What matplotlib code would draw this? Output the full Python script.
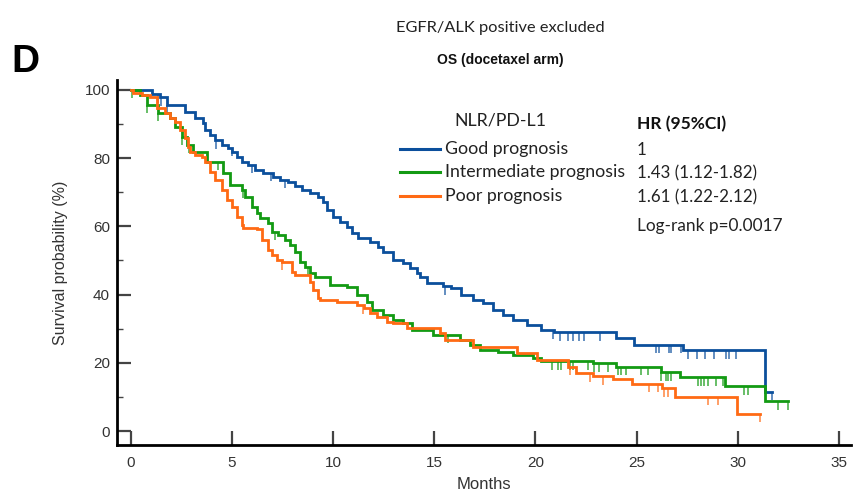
import numpy as np
import matplotlib
matplotlib.use("Agg")
import matplotlib.pyplot as plt
from matplotlib.lines import Line2D

# ---------------- data (months, survival %) ----------------
good_t = [0, 1.04, 1.44, 1.78, 2.67, 3.17, 3.56, 3.66, 3.91, 4.16, 4.5, 4.8, 5.0, 5.25, 5.5, 5.8,
          6.14, 6.53, 7.03, 7.38, 7.77, 8.12, 8.47, 8.86, 9.26, 9.5, 9.7, 10.0, 10.35, 10.69, 10.94,
          11.24, 11.83, 12.23, 12.48, 12.97, 13.47, 13.81, 14.16, 14.3, 14.65, 15.45, 15.8, 16.3,
          16.9, 17.4, 17.9, 18.4, 18.9, 19.6, 20.25, 20.9, 23.96, 24.85, 27.28, 31.34]
good_s = [100, 98.8, 97.9, 95.6, 93.5, 91.8, 90.3, 88.3, 86.8, 85.3, 83.9, 83.0, 81.8, 80.4, 78.9, 78.0,
          76.5, 75.7, 74.5, 73.6, 73.0, 71.8, 70.7, 69.8, 68.6, 67.2, 64.8, 62.8, 61.3, 59.8, 58.1,
          56.6, 55.4, 54.0, 52.5, 50.1, 49.3, 47.8, 46.3, 45.2, 43.4, 42.5, 41.9, 39.9,
          38.4, 37.5, 35.5, 34.0, 32.6, 31.1, 29.6, 29.0, 27.3, 25.3, 23.7, 11.5]
good_end = 31.7
good_cens = [1.34, 1.49, 1.78, 4.21, 4.99, 5.99, 6.93, 7.62, 15.54, 20.89, 21.19, 21.63, 21.88,
             22.13, 22.38, 23.17, 25.94, 26.09, 26.58, 26.68, 27.18, 27.53, 27.97, 28.37, 28.81,
             29.41, 29.55, 29.9, 31.68]

inter_t = [0, 0.45, 0.8, 1.34, 1.93, 2.18, 2.52, 2.77, 3.07, 3.76, 4.55, 4.9, 5.5, 5.64, 5.99,
           6.24, 6.39, 6.78, 6.98, 7.28, 7.62, 7.87, 8.12, 8.37, 8.61, 8.86, 9.1, 9.85, 10.69,
           11.2, 11.68, 11.93, 12.48, 12.97, 13.47, 13.91, 14.95, 16.29, 16.78, 17.28, 18.17,
           18.91, 19.9, 20.25, 22.82, 23.96, 26.19, 27.13, 29.36, 31.34]
inter_s = [100, 98.5, 95.6, 93.3, 91.8, 89.1, 86.2, 83.9, 81.8, 78.9, 75.7, 72.1, 70.7, 68.6, 65.7,
           63.9, 62.5, 61.0, 58.4, 57.5, 56.0, 54.5, 52.5, 49.6, 48.1, 46.3, 45.2, 42.8, 42.2,
           39.9, 37.8, 35.5, 34.0, 32.6, 31.7, 29.6, 28.2, 26.7, 25.2, 23.8, 23.2,
           22.3, 21.4, 20.5, 19.9, 18.8, 17.3, 15.8, 13.2, 8.8]
inter_end = 32.5
inter_cens = [0.05, 0.8, 1.34, 2.52, 2.87, 4.31, 5.54, 7.13, 8.76, 15.69, 20.84, 21.09, 21.24,
              21.73, 21.88, 22.62, 22.87, 23.12, 23.61, 24.06, 24.21, 24.46, 25.2, 25.54, 26.19,
              26.44, 26.53, 26.68, 28.02, 28.17, 28.32, 28.51, 28.91, 29.26, 30.3, 30.5, 31.98, 32.5]

poor_t = [0, 0.1, 0.55, 0.94, 1.29, 1.68, 1.93, 2.18, 2.43, 2.67, 2.82, 2.92, 3.17, 3.51, 3.66,
          3.91, 4.16, 4.5, 4.75, 5.0, 5.25, 5.5, 5.54, 6.24, 6.49, 6.78, 6.98, 7.23, 7.48, 7.97,
          8.12, 8.86, 9.0, 9.26, 9.36, 10.2, 11.19, 11.5, 11.83, 12.18, 12.67, 12.97, 13.66,
          15.3, 15.54, 16.93, 19.1, 20.1, 21.6, 21.98, 22.82, 23.81, 24.75, 26.24, 26.88, 29.95]
poor_s = [100, 99.0, 98.5, 98.0, 94.7, 93.3, 91.8, 90.6, 88.3, 85.9, 83.3, 81.8, 80.9, 80.3, 78.9,
          76.0, 73.6, 70.7, 67.7, 65.7, 62.8, 60.4, 59.5, 59.2, 56.0, 53.1, 51.6, 50.1, 49.6, 46.6,
          45.7, 43.7, 41.3, 39.0, 38.4, 37.8, 36.9, 36.0, 34.6, 33.4, 32.0, 31.7, 30.3,
          28.7, 26.7, 24.6, 22.9, 20.8, 18.8, 17.0, 16.1, 15.2, 13.8, 12.6, 10.0, 5.0]
poor_end = 31.1
poor_cens = [7.48, 11.49, 21.73, 22.72, 23.32, 25.59, 26.04, 26.34, 26.53, 28.51, 29.01, 31.09]

labels = ["Good prognosis", "Intermediate prognosis", "Poor prognosis"]
hr_text = ["1", "1.43 (1.12-1.82)", "1.61 (1.22-2.12)"]
colors = ["#0b4f9c", "#139a13", "#ff6a14"]

x_ticks = [0, 5, 10, 15, 20, 25, 30, 35]
y_ticks = [0, 20, 40, 60, 80, 100]
y_minor = [10, 30, 50, 70, 90]

# ---------------- figure ----------------
W, H = 856, 491
fig = plt.figure(figsize=(W / 100, H / 100), dpi=100)
def fx(x): return x / W
def fy(y): return 1 - y / H

ax = fig.add_axes([fx(117), fy(445), fx(851) - fx(117), fy(80) - fy(445)])
ax.set_xlim(-0.69, 35.6)
ax.set_ylim(-4.1, 102.9)

groups = [(good_t, good_s, good_end, good_cens),
          (inter_t, inter_s, inter_end, inter_cens),
          (poor_t, poor_s, poor_end, poor_cens)]
for i in range(3):
    t, s, end, cens = groups[i]
    tt = np.array(t + [end], dtype=float)
    ss = np.array(s + [s[-1]], dtype=float)
    ax.plot(tt, ss, drawstyle="steps-post", color=colors[i], lw=2.0, solid_joinstyle="miter", zorder=3)
    c = np.array(cens, dtype=float)
    idx = np.searchsorted(np.array(t), c, side="right") - 1
    cv = np.array(s)[idx]
    ax.vlines(c, cv - 2.5, cv, color=colors[i], lw=1.2, alpha=0.75, zorder=2)

for sp in ["top", "right"]:
    ax.spines[sp].set_visible(False)
for sp in ["left", "bottom"]:
    ax.spines[sp].set_linewidth(2.0)
    ax.spines[sp].set_color("black")

tick_font = dict(family=["Liberation Sans", "DejaVu Sans"], size=11)
ax.set_xticks(x_ticks)
ax.set_yticks(y_ticks)
ax.set_yticks(y_minor, minor=True)
ax.set_xticklabels([str(v) for v in x_ticks], **tick_font)
ax.set_yticklabels([str(v) for v in y_ticks], **tick_font)
ax.tick_params(axis="both", which="major", direction="in", length=10, width=1.6,
               color="#444444", labelcolor="#333333", pad=5)
ax.tick_params(axis="y", which="minor", direction="in", length=4.5, width=1.0, color="#444444")
ax.tick_params(axis="x", pad=8)

ax.set_xlabel("Months", family=["Liberation Sans"], size=12, color="#333333", labelpad=5)
ax.set_ylabel("Survival probability (%)", family=["Liberation Sans"], size=11.5, color="#333333", labelpad=12)

# ---------------- titles ----------------
fig.text(fx(500), fy(28), "EGFR/ALK positive excluded", family=["Lato", "DejaVu Sans"], size=11.8,
         ha="center", va="center", color="#222222")
fig.text(fx(500), fy(60), "OS (docetaxel arm)", family=["Liberation Sans", "DejaVu Sans"], size=10,
         weight="bold", ha="center", va="center", color="#111111")
fig.text(fx(11), fy(62), "D", family=["Liberation Sans", "DejaVu Sans"], size=28,
         weight="bold", ha="left", va="center", color="black")

# ---------------- legend ----------------
lfont = ["Lato", "DejaVu Sans"]
fig.text(fx(500), fy(121), "NLR/PD-L1", family=lfont, size=12.8, ha="center", va="center", color="#222222")
fig.text(fx(637), fy(124), "HR (95%CI)", family=lfont, size=12.5, weight="bold", ha="left", va="center", color="#111111")
rows_y = [149, 172, 196]
for i in range(3):
    fig.add_artist(Line2D([fx(400), fx(440)], [fy(rows_y[i]), fy(rows_y[i])], color=colors[i], lw=2.2))
    fig.text(fx(445), fy(rows_y[i]), labels[i], family=lfont, size=12.8, ha="left", va="center", color="#222222")
    fig.text(fx(637), fy(rows_y[i] + 1), hr_text[i], family=lfont, size=12.2, ha="left", va="center", color="#222222")
fig.text(fx(637), fy(226), "Log-rank p=0.0017", family=lfont, size=12.4, ha="left", va="center", color="#222222")

fig.savefig("out.png", dpi=100)
